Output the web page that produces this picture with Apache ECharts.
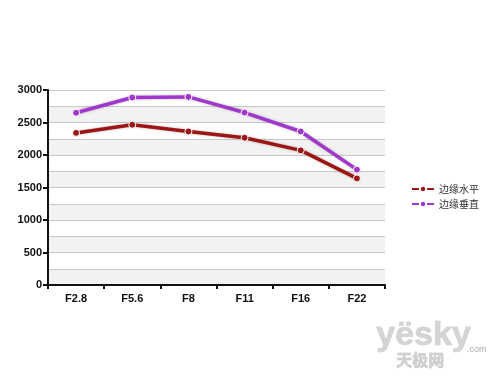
<!DOCTYPE html>
<html><head><meta charset="utf-8">
<script src="https://cdn.jsdelivr.net/npm/echarts@6/dist/echarts.min.js"></script>
<style>html,body{margin:0;padding:0;background:#fff}#c{width:500px;height:387px}</style>
</head><body><div id="c"></div>
<script>
const categories = ['F2.8','F5.6','F8','F11','F16','F22'];
const seriesNames = ['边缘水平','边缘垂直'];
const horizontal = [2340, 2465, 2362, 2265, 2071, 1640];
const vertical = [2650, 2884, 2894, 2653, 2362, 1775];
const yTicks = [0, 500, 1000, 1500, 2000, 2500, 3000];

const chart = echarts.init(document.getElementById('c'));
const grid = {left: 48, right: 115, top: 90, bottom: 102};
const mk = (name, data, color) => ({
  name, type: 'line', data, yAxisIndex: 0,
  symbol: 'circle', symbolSize: 7,
  lineStyle: {width: 3.5, color, shadowColor: 'rgba(0,0,0,0.25)', shadowBlur: 3},
  itemStyle: {color, borderColor: '#fff', borderWidth: 1},
  emphasis: {disabled: true}
});
chart.setOption({
  animation: false,
  backgroundColor: '#fff',
  grid,
  legend: {
    orient: 'vertical', left: 406, top: 179, itemGap: 5,
    itemWidth: 22, itemHeight: 8,
    textStyle: {fontSize: 10, color: '#333', fontFamily: 'Noto Sans CJK SC'},
    data: seriesNames
  },
  xAxis: {
    type: 'category', data: categories, boundaryGap: true,
    axisLine: {lineStyle: {color: '#111', width: 2}},
    axisTick: {show: true, length: 4, lineStyle: {color: '#111', width: 2}},
    axisLabel: {fontSize: 11, fontWeight: 'bold', color: '#111', margin: 8, fontFamily: 'Liberation Sans'}
  },
  yAxis: [{
    type: 'value', min: 0, max: 3000, interval: 250,
    axisLine: {show: false}, axisTick: {show: false}, axisLabel: {show: false},
    splitLine: {show: true, lineStyle: {color: '#c8c8c8', width: 1}},
    splitArea: {show: true, areaStyle: {color: ['#f2f2f2', '#ffffff']}}
  }, {
    type: 'value', min: yTicks[0], max: yTicks[yTicks.length - 1], interval: 500, position: 'left',
    axisLine: {show: true, lineStyle: {color: '#111', width: 2}},
    axisTick: {show: true, length: 5, lineStyle: {color: '#111', width: 2}},
    axisLabel: {fontSize: 11, fontWeight: 'bold', color: '#111', margin: 6, fontFamily: 'Liberation Sans',
      formatter: v => String(v)},
    splitLine: {show: false}
  }],
  series: [mk(seriesNames[0], horizontal, '#9e1515'), mk(seriesNames[1], vertical, '#a036cc')],
  graphic: [
    {type: 'text', left: 376, top: 318, style: {text: 'yësky', font: 'bold 34px Liberation Sans', fill: '#d4d4d4', stroke: '#bbb', lineWidth: 0.5}},
    {type: 'text', left: 467, top: 345, style: {text: '.com', font: '9px Liberation Sans', fill: '#aaa'}},
    {type: 'text', left: 396, top: 352, style: {text: '天极网', font: 'bold 16px Noto Sans CJK SC', fill: '#d0d0d0', stroke: '#bbb', lineWidth: 0.5}}
  ]
});
</script></body></html>
